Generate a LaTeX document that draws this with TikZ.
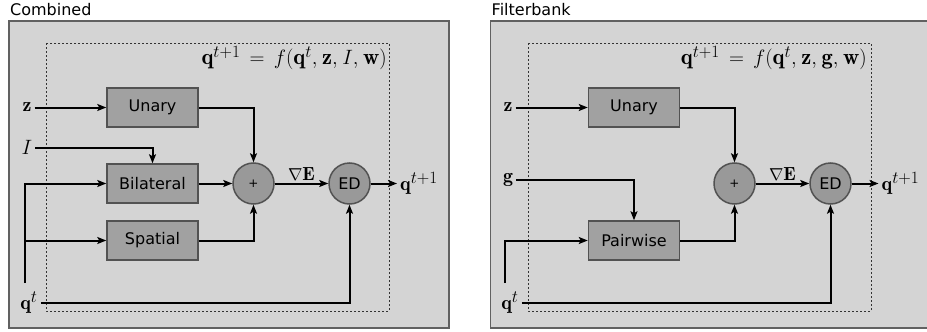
\documentclass[tikz,border=0pt]{standalone}
\usepackage{fontspec}
\setsansfont{DejaVu Sans}
\DeclareMathSizes{20}{20}{17}{14}
\DeclareMathSizes{22.5}{22.5}{19}{15.5}
\DeclareMathSizes{19}{19}{16}{13}
\usetikzlibrary{arrows.meta,calc}
\begin{document}
\begin{tikzpicture}[x=1pt,y=-1pt,
  panel/.style={draw=black!62, fill=black!17, line width=1.2pt},
  innerbox/.style={draw=black!80, dash pattern=on 2pt off 2pt, line width=1pt},
  blk/.style={draw=black!68, fill=black!37, line width=1.5pt, minimum width=91pt, minimum height=39pt, inner sep=0pt, font=\sffamily\fontsize{16}{19}\selectfont},
  op/.style={circle, draw=black!68, fill=black!40, line width=1.5pt, minimum size=41pt, inner sep=0pt, font=\sffamily\fontsize{16}{19}\selectfont},
  lbl/.style={inner ysep=1pt, inner xsep=3pt, font=\fontsize{20}{24}\selectfont},
  eqn/.style={inner sep=0pt, anchor=east, font=\fontsize{22.5}{27}\selectfont},
  ttl/.style={anchor=base west, inner sep=0pt, font=\sffamily\fontsize{16}{19}\selectfont},
  arr/.style={line width=2pt, -{Stealth[length=9pt,width=7pt,inset=2pt]}}
]
\useasboundingbox (0,0) rectangle (927,332);
\clip (0,0) rectangle (927,332);

% ---------------- Combined ----------------
\node[ttl] (t1) at (10,16) {Combined};
\draw[panel] (9,21) rectangle (449,328);
\draw[innerbox] (46,43) rectangle (389,311);
\node[eqn] (eq1) at (387,58) {$\thickmuskip=8mu\thinmuskip=4mu\mathbf{q}^{t+1} = f(\mathbf{q}^t, \mathbf{z}, I, \mathbf{w})$};

\node[lbl] (z1) at (27,107.5) {$\mathbf{z}$};
\node[lbl] (i1) at (27,147.5) {$I$};
\node[lbl] (qt1) at (29,302.5) {$\mathbf{q}^t$};

\node[blk] (un1) at (152.5,107.5) {Unary};
\node[blk] (bil1) at (152.5,183.5) {Bilateral};
\node[blk] (sp1) at (152.5,240.5) {Spatial};
\node[op] (pl1) at (253.5,183.5) {\fontsize{12}{14}\selectfont +};
\node[op] (ed1) at (349.5,183.5) {ED};
\node[lbl, anchor=west] (qn1) at (397,183.5) {$\mathbf{q}^{t+1}$};

\coordinate (v1) at (24.5,283);
\draw[arr] (z1.east) -- (un1.west);
\draw[arr] (i1.east) -| (bil1.north);
\draw[arr] (v1) |- (bil1.west);
\draw[arr] (v1 |- sp1.west) -- (sp1.west);
\draw[arr] (un1.east) -| (pl1.north);
\draw[arr] (bil1.east) -- (pl1.west);
\draw[arr] (sp1.east) -| (pl1.south);
\draw[arr] (pl1.east) -- node[above, inner sep=2pt, font=\fontsize{19}{23}\selectfont] (ge1) {$\nabla\mathbf{E}$} (ed1.west);
\draw[arr] (ed1.east) -- (qn1.west);
\draw[arr] (qt1.east) -| (ed1.south);

% ---------------- Filterbank ----------------
\node[ttl] (t2) at (491.5,16) {Filterbank};
\draw[panel] (490.5,21) rectangle (931,328);
\draw[innerbox] (528,43) rectangle (871,311);
\node[eqn] (eq2) at (867,58) {$\thickmuskip=8mu\thinmuskip=4mu\mathbf{q}^{t+1} = f(\mathbf{q}^t, \mathbf{z}, \mathbf{g}, \mathbf{w})$};

\node[lbl] (z2) at (508,107.5) {$\mathbf{z}$};
\node[lbl] (g2) at (508,179.5) {$\mathbf{g}$};
\node[lbl] (qt2) at (510,302.5) {$\mathbf{q}^t$};

\node[blk] (un2) at (634,107.5) {Unary};
\node[blk] (pw2) at (634,240.5) {Pairwise};
\node[op] (pl2) at (734.5,183.5) {\fontsize{12}{14}\selectfont +};
\node[op] (ed2) at (830.5,183.5) {ED};
\node[lbl, anchor=west] (qn2) at (878.5,183.5) {$\mathbf{q}^{t+1}$};

\coordinate (v2) at (504.5,283);
\draw[arr] (z2.east) -- (un2.west);
\draw[arr] (g2.east) -| (pw2.north);
\draw[arr] (v2) |- (pw2.west);
\draw[arr] (un2.east) -| (pl2.north);
\draw[arr] (pw2.east) -| (pl2.south);
\draw[arr] (pl2.east) -- node[above, inner sep=2pt, font=\fontsize{19}{23}\selectfont] (ge2) {$\nabla\mathbf{E}$} (ed2.west);
\draw[arr] (ed2.east) -- (qn2.west);
\draw[arr] (qt2.east) -| (ed2.south);
\end{tikzpicture}
\end{document}
